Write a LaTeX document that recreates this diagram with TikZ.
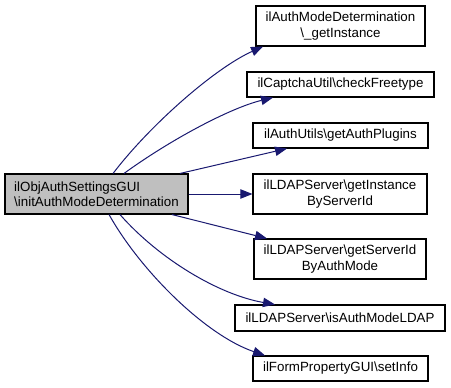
\documentclass[tikz,border=0pt]{standalone}
\usepackage{fontspec}
\setmainfont{Liberation Sans}
\usetikzlibrary{arrows.meta}

\definecolor{edgeblue}{RGB}{25,25,112}
\definecolor{callergray}{RGB}{191,191,191}

\begin{document}
\begin{tikzpicture}[
  x=0.75pt,
  y=-0.75pt,
  func/.style={
    draw,
    line width=0.8pt,
    align=center,
    fill=white,
    inner sep=1pt,
    font=\fontsize{10}{11.5}\selectfont
  },
  caller/.style={
    func,
    align=left,
    fill=callergray
  },
  call/.style={-{Triangle[length=9pt,width=7pt]}, line width=0.75pt, draw=edgeblue}
]
\useasboundingbox (0,0) rectangle (451,387);

\node[caller, minimum width=137.25pt, minimum height=30pt] (initauth) at (96.5,194) {ilObjAuthSettingsGUI\\\textbackslash initAuthModeDetermination};

\node[func, minimum width=126.75pt, minimum height=30pt] (getinst) at (340.5,26) {ilAuthModeDetermination\\\textbackslash\_getInstance};
\node[func, minimum width=140.25pt, minimum height=18.75pt] (freetype) at (340.5,84.5) {ilCaptchaUtil\textbackslash checkFreetype};
\node[func, minimum width=131.25pt, minimum height=18.75pt] (plugins) at (340.5,135.5) {ilAuthUtils\textbackslash getAuthPlugins};
\node[func, minimum width=130.5pt, minimum height=30pt] (byserver) at (340,194) {ilLDAPServer\textbackslash getInstance\\ByServerId};
\node[func, minimum width=129pt, minimum height=30pt] (bymode) at (340,259) {ilLDAPServer\textbackslash getServerId\\ByAuthMode};
\node[func, minimum width=157.5pt, minimum height=19.5pt] (isldap) at (340,318) {ilLDAPServer\textbackslash isAuthModeLDAP};
\node[func, minimum width=131.25pt, minimum height=18.75pt] (setinfo) at (340.5,368.5) {ilFormPropertyGUI\textbackslash setInfo};

\draw[call] ([xshift=12.4pt]initauth.north) .. controls (150,125) and (215,68) .. ([xshift=-58.1pt]getinst.south);
\draw[call] ([xshift=20.6pt]initauth.north) .. controls (170,140) and (230,108) .. ([xshift=-50.6pt]freetype.south);
\draw[call] ([xshift=62.6pt]initauth.north) -- ([xshift=-40.1pt]plugins.south);
\draw[call] (initauth.east) -- (byserver.west);
\draw[call] ([xshift=56.6pt]initauth.south) -- ([xshift=-54.75pt]bymode.north);
\draw[call] ([xshift=17.6pt]initauth.south) .. controls (160,260) and (220,295) .. ([xshift=-48.75pt]isldap.north);
\draw[call] ([xshift=9.4pt]initauth.south) .. controls (140,270) and (205,335) .. ([xshift=-56.6pt]setinfo.north);

\end{tikzpicture}
\end{document}
